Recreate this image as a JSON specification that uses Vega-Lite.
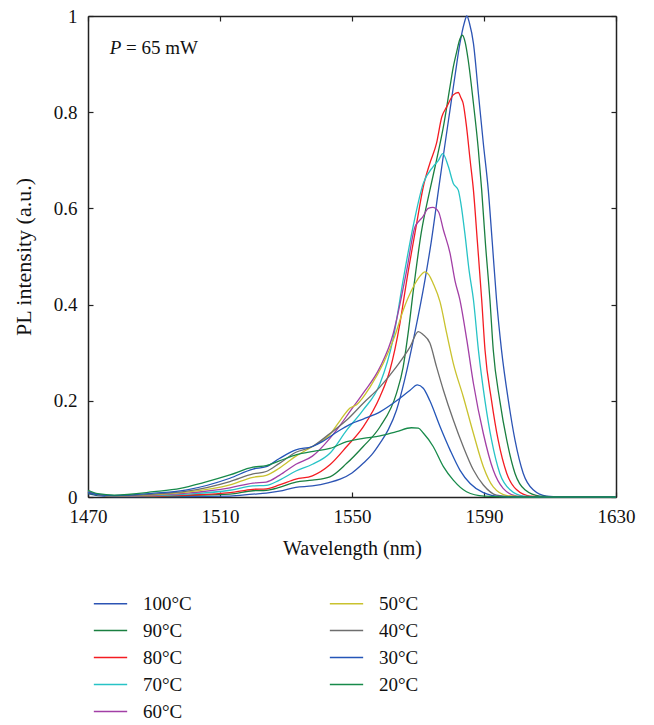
{
  "$schema": "https://vega.github.io/schema/vega-lite/v6.json",
  "autosize": {"type": "none"},
  "width": 528,
  "height": 481,
  "padding": {"left": 88, "top": 16, "right": 38, "bottom": 228},
  "background": "white",
  "config": {
    "view": {"stroke": null},
    "font": "Liberation Serif",
    "axis": {"grid": false, "domainColor": "#222", "domainWidth": 1.5, "tickColor": "#222", "tickWidth": 1.2, "labelFont": "Liberation Serif", "titleFont": "Liberation Serif", "labelColor": "#111", "titleColor": "#111", "labelFontSize": 19, "titleFontSize": 20, "titleFontWeight": "normal"}
  },
  "datasets": {
    "curves": [
      {"s":"100°C","w":1470,"v":0.007},{"s":"100°C","w":1473,"v":0.003},{"s":"100°C","w":1478,"v":0.001},{"s":"100°C","w":1490,"v":0.001},{"s":"100°C","w":1500,"v":0.001},{"s":"100°C","w":1513,"v":0.002},{"s":"100°C","w":1520,"v":0.006},{"s":"100°C","w":1524,"v":0.008},{"s":"100°C","w":1528,"v":0.012},{"s":"100°C","w":1533,"v":0.02},{"s":"100°C","w":1538,"v":0.023},{"s":"100°C","w":1543,"v":0.03},{"s":"100°C","w":1546.4,"v":0.037},{"s":"100°C","w":1550,"v":0.05},{"s":"100°C","w":1553.4,"v":0.07},{"s":"100°C","w":1556,"v":0.088},{"s":"100°C","w":1558.5,"v":0.112},{"s":"100°C","w":1561,"v":0.14},{"s":"100°C","w":1563.5,"v":0.181},{"s":"100°C","w":1566,"v":0.245},{"s":"100°C","w":1569,"v":0.34},{"s":"100°C","w":1572.1,"v":0.451},{"s":"100°C","w":1574,"v":0.53},{"s":"100°C","w":1576.2,"v":0.638},{"s":"100°C","w":1578,"v":0.725},{"s":"100°C","w":1579.7,"v":0.805},{"s":"100°C","w":1581.3,"v":0.88},{"s":"100°C","w":1582.7,"v":0.943},{"s":"100°C","w":1584,"v":0.985},{"s":"100°C","w":1584.8,"v":1.0},{"s":"100°C","w":1585.6,"v":0.985},{"s":"100°C","w":1586.8,"v":0.943},{"s":"100°C","w":1588.3,"v":0.839},{"s":"100°C","w":1589.8,"v":0.735},{"s":"100°C","w":1591.3,"v":0.638},{"s":"100°C","w":1592.5,"v":0.53},{"s":"100°C","w":1593.8,"v":0.41},{"s":"100°C","w":1595.3,"v":0.306},{"s":"100°C","w":1597.4,"v":0.2},{"s":"100°C","w":1599.4,"v":0.118},{"s":"100°C","w":1601.9,"v":0.049},{"s":"100°C","w":1604.9,"v":0.015},{"s":"100°C","w":1609,"v":0.002},{"s":"100°C","w":1615,"v":0},{"s":"100°C","w":1630,"v":0},

      {"s":"90°C","w":1470,"v":0.009},{"s":"90°C","w":1473,"v":0.004},{"s":"90°C","w":1478,"v":0.002},{"s":"90°C","w":1490,"v":0.001},{"s":"90°C","w":1500,"v":0.003},{"s":"90°C","w":1513,"v":0.006},{"s":"90°C","w":1520,"v":0.013},{"s":"90°C","w":1524,"v":0.014},{"s":"90°C","w":1528,"v":0.02},{"s":"90°C","w":1533,"v":0.031},{"s":"90°C","w":1538,"v":0.035},{"s":"90°C","w":1543.3,"v":0.042},{"s":"90°C","w":1548.4,"v":0.07},{"s":"90°C","w":1553.4,"v":0.105},{"s":"90°C","w":1558.5,"v":0.146},{"s":"90°C","w":1563.5,"v":0.216},{"s":"90°C","w":1565.5,"v":0.27},{"s":"90°C","w":1567,"v":0.34},{"s":"90°C","w":1568.6,"v":0.43},{"s":"90°C","w":1571,"v":0.55},{"s":"90°C","w":1573.6,"v":0.638},{"s":"90°C","w":1575.6,"v":0.7},{"s":"90°C","w":1577.7,"v":0.77},{"s":"90°C","w":1579.7,"v":0.853},{"s":"90°C","w":1580.7,"v":0.894},{"s":"90°C","w":1581.7,"v":0.925},{"s":"90°C","w":1582.7,"v":0.952},{"s":"90°C","w":1583.5,"v":0.96},{"s":"90°C","w":1584.3,"v":0.945},{"s":"90°C","w":1585.2,"v":0.909},{"s":"90°C","w":1586.8,"v":0.818},{"s":"90°C","w":1588.3,"v":0.721},{"s":"90°C","w":1589.3,"v":0.638},{"s":"90°C","w":1590.4,"v":0.53},{"s":"90°C","w":1591.8,"v":0.41},{"s":"90°C","w":1592.8,"v":0.306},{"s":"90°C","w":1594.8,"v":0.2},{"s":"90°C","w":1596.9,"v":0.118},{"s":"90°C","w":1599.4,"v":0.049},{"s":"90°C","w":1602.4,"v":0.015},{"s":"90°C","w":1607,"v":0.002},{"s":"90°C","w":1615,"v":0},{"s":"90°C","w":1630,"v":0},

      {"s":"80°C","w":1470,"v":0.01},{"s":"80°C","w":1473,"v":0.005},{"s":"80°C","w":1478,"v":0.002},{"s":"80°C","w":1490,"v":0.002},{"s":"80°C","w":1500,"v":0.004},{"s":"80°C","w":1513,"v":0.009},{"s":"80°C","w":1520,"v":0.016},{"s":"80°C","w":1524,"v":0.017},{"s":"80°C","w":1528,"v":0.025},{"s":"80°C","w":1533,"v":0.037},{"s":"80°C","w":1538,"v":0.044},{"s":"80°C","w":1543.3,"v":0.067},{"s":"80°C","w":1548.4,"v":0.105},{"s":"80°C","w":1553.4,"v":0.146},{"s":"80°C","w":1558.5,"v":0.209},{"s":"80°C","w":1561.5,"v":0.264},{"s":"80°C","w":1564.5,"v":0.36},{"s":"80°C","w":1566.6,"v":0.451},{"s":"80°C","w":1569.6,"v":0.569},{"s":"80°C","w":1571.6,"v":0.645},{"s":"80°C","w":1573.6,"v":0.694},{"s":"80°C","w":1575.6,"v":0.735},{"s":"80°C","w":1577.2,"v":0.79},{"s":"80°C","w":1578.7,"v":0.811},{"s":"80°C","w":1580.7,"v":0.836},{"s":"80°C","w":1582.2,"v":0.841},{"s":"80°C","w":1583,"v":0.83},{"s":"80°C","w":1583.7,"v":0.818},{"s":"80°C","w":1584.7,"v":0.77},{"s":"80°C","w":1585.8,"v":0.7},{"s":"80°C","w":1586.8,"v":0.638},{"s":"80°C","w":1588,"v":0.53},{"s":"80°C","w":1589.3,"v":0.41},{"s":"80°C","w":1590.3,"v":0.306},{"s":"80°C","w":1592.3,"v":0.2},{"s":"80°C","w":1594.3,"v":0.118},{"s":"80°C","w":1596.9,"v":0.049},{"s":"80°C","w":1599.9,"v":0.015},{"s":"80°C","w":1604,"v":0.002},{"s":"80°C","w":1612,"v":0},{"s":"80°C","w":1630,"v":0},

      {"s":"70°C","w":1470,"v":0.012},{"s":"70°C","w":1473,"v":0.005},{"s":"70°C","w":1478,"v":0.002},{"s":"70°C","w":1490,"v":0.003},{"s":"70°C","w":1500,"v":0.006},{"s":"70°C","w":1513,"v":0.014},{"s":"70°C","w":1520,"v":0.023},{"s":"70°C","w":1524,"v":0.024},{"s":"70°C","w":1528,"v":0.035},{"s":"70°C","w":1533,"v":0.054},{"s":"70°C","w":1538,"v":0.068},{"s":"70°C","w":1543.3,"v":0.091},{"s":"70°C","w":1548.4,"v":0.139},{"s":"70°C","w":1553.4,"v":0.181},{"s":"70°C","w":1558.5,"v":0.236},{"s":"70°C","w":1562.5,"v":0.33},{"s":"70°C","w":1565.6,"v":0.455},{"s":"70°C","w":1568.6,"v":0.565},{"s":"70°C","w":1571.6,"v":0.652},{"s":"70°C","w":1574.6,"v":0.687},{"s":"70°C","w":1576.2,"v":0.7},{"s":"70°C","w":1577.5,"v":0.714},{"s":"70°C","w":1579.2,"v":0.687},{"s":"70°C","w":1580.7,"v":0.652},{"s":"70°C","w":1582.2,"v":0.638},{"s":"70°C","w":1583,"v":0.61},{"s":"70°C","w":1584.2,"v":0.548},{"s":"70°C","w":1585.5,"v":0.47},{"s":"70°C","w":1586.8,"v":0.41},{"s":"70°C","w":1588.3,"v":0.306},{"s":"70°C","w":1590.3,"v":0.2},{"s":"70°C","w":1592.3,"v":0.118},{"s":"70°C","w":1594.8,"v":0.049},{"s":"70°C","w":1597.9,"v":0.015},{"s":"70°C","w":1602,"v":0.002},{"s":"70°C","w":1610,"v":0},{"s":"70°C","w":1630,"v":0},

      {"s":"60°C","w":1470,"v":0.012},{"s":"60°C","w":1473,"v":0.005},{"s":"60°C","w":1478,"v":0.002},{"s":"60°C","w":1490,"v":0.004},{"s":"60°C","w":1500,"v":0.008},{"s":"60°C","w":1513,"v":0.019},{"s":"60°C","w":1520,"v":0.029},{"s":"60°C","w":1524,"v":0.031},{"s":"60°C","w":1528,"v":0.045},{"s":"60°C","w":1533,"v":0.068},{"s":"60°C","w":1538,"v":0.085},{"s":"60°C","w":1543.3,"v":0.122},{"s":"60°C","w":1546.5,"v":0.15},{"s":"60°C","w":1549.4,"v":0.178},{"s":"60°C","w":1553.4,"v":0.216},{"s":"60°C","w":1558.5,"v":0.27},{"s":"60°C","w":1562.5,"v":0.34},{"s":"60°C","w":1564.5,"v":0.4},{"s":"60°C","w":1566.6,"v":0.472},{"s":"60°C","w":1569.1,"v":0.562},{"s":"60°C","w":1570.1,"v":0.572},{"s":"60°C","w":1571.5,"v":0.583},{"s":"60°C","w":1573.1,"v":0.6},{"s":"60°C","w":1574.5,"v":0.602},{"s":"60°C","w":1576.2,"v":0.593},{"s":"60°C","w":1577.7,"v":0.555},{"s":"60°C","w":1579.7,"v":0.507},{"s":"60°C","w":1581.2,"v":0.45},{"s":"60°C","w":1582.7,"v":0.41},{"s":"60°C","w":1584.8,"v":0.326},{"s":"60°C","w":1586.8,"v":0.236},{"s":"60°C","w":1589.8,"v":0.132},{"s":"60°C","w":1592.8,"v":0.056},{"s":"60°C","w":1595.8,"v":0.018},{"s":"60°C","w":1600,"v":0.002},{"s":"60°C","w":1608,"v":0},{"s":"60°C","w":1630,"v":0},

      {"s":"50°C","w":1470,"v":0.011},{"s":"50°C","w":1473,"v":0.005},{"s":"50°C","w":1478,"v":0.002},{"s":"50°C","w":1490,"v":0.005},{"s":"50°C","w":1500,"v":0.01},{"s":"50°C","w":1513,"v":0.025},{"s":"50°C","w":1520,"v":0.041},{"s":"50°C","w":1524,"v":0.045},{"s":"50°C","w":1528,"v":0.06},{"s":"50°C","w":1533,"v":0.085},{"s":"50°C","w":1538,"v":0.105},{"s":"50°C","w":1543.3,"v":0.13},{"s":"50°C","w":1546.5,"v":0.16},{"s":"50°C","w":1549.4,"v":0.185},{"s":"50°C","w":1551.4,"v":0.192},{"s":"50°C","w":1555.5,"v":0.229},{"s":"50°C","w":1559.5,"v":0.278},{"s":"50°C","w":1563,"v":0.335},{"s":"50°C","w":1565.6,"v":0.39},{"s":"50°C","w":1568.6,"v":0.437},{"s":"50°C","w":1570.5,"v":0.458},{"s":"50°C","w":1572.1,"v":0.468},{"s":"50°C","w":1573.3,"v":0.462},{"s":"50°C","w":1574.6,"v":0.444},{"s":"50°C","w":1576.7,"v":0.405},{"s":"50°C","w":1578.7,"v":0.34},{"s":"50°C","w":1580.7,"v":0.278},{"s":"50°C","w":1583.7,"v":0.209},{"s":"50°C","w":1586.8,"v":0.132},{"s":"50°C","w":1589.8,"v":0.063},{"s":"50°C","w":1592.8,"v":0.021},{"s":"50°C","w":1597,"v":0.003},{"s":"50°C","w":1605,"v":0},{"s":"50°C","w":1630,"v":0},

      {"s":"40°C","w":1470,"v":0.011},{"s":"40°C","w":1473,"v":0.005},{"s":"40°C","w":1478,"v":0.002},{"s":"40°C","w":1490,"v":0.006},{"s":"40°C","w":1500,"v":0.012},{"s":"40°C","w":1513,"v":0.032},{"s":"40°C","w":1520,"v":0.048},{"s":"40°C","w":1524,"v":0.053},{"s":"40°C","w":1528,"v":0.07},{"s":"40°C","w":1533,"v":0.093},{"s":"40°C","w":1538,"v":0.105},{"s":"40°C","w":1543.3,"v":0.132},{"s":"40°C","w":1548.4,"v":0.16},{"s":"40°C","w":1553.4,"v":0.195},{"s":"40°C","w":1558.5,"v":0.229},{"s":"40°C","w":1563.5,"v":0.271},{"s":"40°C","w":1567.6,"v":0.312},{"s":"40°C","w":1570.1,"v":0.344},{"s":"40°C","w":1571.5,"v":0.338},{"s":"40°C","w":1573.6,"v":0.32},{"s":"40°C","w":1575.6,"v":0.271},{"s":"40°C","w":1577.7,"v":0.222},{"s":"40°C","w":1580.7,"v":0.16},{"s":"40°C","w":1583.7,"v":0.105},{"s":"40°C","w":1586.8,"v":0.056},{"s":"40°C","w":1589.8,"v":0.025},{"s":"40°C","w":1593.8,"v":0.004},{"s":"40°C","w":1600,"v":0},{"s":"40°C","w":1630,"v":0},

      {"s":"30°C","w":1470,"v":0.01},{"s":"30°C","w":1473,"v":0.005},{"s":"30°C","w":1478,"v":0.003},{"s":"30°C","w":1490,"v":0.008},{"s":"30°C","w":1500,"v":0.015},{"s":"30°C","w":1513,"v":0.039},{"s":"30°C","w":1520,"v":0.058},{"s":"30°C","w":1524,"v":0.063},{"s":"30°C","w":1528,"v":0.08},{"s":"30°C","w":1533,"v":0.098},{"s":"30°C","w":1538,"v":0.105},{"s":"30°C","w":1541,"v":0.115},{"s":"30°C","w":1545.4,"v":0.135},{"s":"30°C","w":1549.4,"v":0.151},{"s":"30°C","w":1553.4,"v":0.162},{"s":"30°C","w":1558.5,"v":0.177},{"s":"30°C","w":1563.5,"v":0.2},{"s":"30°C","w":1567.6,"v":0.222},{"s":"30°C","w":1569.8,"v":0.233},{"s":"30°C","w":1571.6,"v":0.226},{"s":"30°C","w":1573.6,"v":0.2},{"s":"30°C","w":1576.7,"v":0.146},{"s":"30°C","w":1579.7,"v":0.098},{"s":"30°C","w":1582.7,"v":0.056},{"s":"30°C","w":1585.8,"v":0.028},{"s":"30°C","w":1589.8,"v":0.009},{"s":"30°C","w":1595,"v":0.001},{"s":"30°C","w":1605,"v":0},{"s":"30°C","w":1630,"v":0},

      {"s":"20°C","w":1470,"v":0.014},{"s":"20°C","w":1473,"v":0.007},{"s":"20°C","w":1478,"v":0.004},{"s":"20°C","w":1490,"v":0.011},{"s":"20°C","w":1498,"v":0.018},{"s":"20°C","w":1505,"v":0.03},{"s":"20°C","w":1513,"v":0.046},{"s":"20°C","w":1520,"v":0.062},{"s":"20°C","w":1524,"v":0.065},{"s":"20°C","w":1528,"v":0.075},{"s":"20°C","w":1533.2,"v":0.088},{"s":"20°C","w":1538.3,"v":0.095},{"s":"20°C","w":1543.3,"v":0.101},{"s":"20°C","w":1548.4,"v":0.115},{"s":"20°C","w":1553.4,"v":0.122},{"s":"20°C","w":1558.5,"v":0.127},{"s":"20°C","w":1563.5,"v":0.136},{"s":"20°C","w":1568,"v":0.144},{"s":"20°C","w":1570.1,"v":0.143},{"s":"20°C","w":1571.6,"v":0.133},{"s":"20°C","w":1574.6,"v":0.105},{"s":"20°C","w":1577.7,"v":0.063},{"s":"20°C","w":1580.7,"v":0.035},{"s":"20°C","w":1584.7,"v":0.011},{"s":"20°C","w":1590,"v":0.002},{"s":"20°C","w":1600,"v":0},{"s":"20°C","w":1630,"v":0}
    ],
    "noteP": [{"w": 1476.6, "v": 0.922, "t": "P"}],
    "noteRest": [{"w": 1481.5, "v": 0.922, "t": "= 65 mW"}]
  },
  "layer": [
    {
      "data": {"name": "curves"},
      "mark": {"type": "line", "strokeWidth": 1.3, "interpolate": "monotone"},
      "encoding": {
        "x": {"field": "w", "type": "quantitative", "scale": {"domain": [1470, 1630], "nice": false, "zero": false},
          "axis": {"orient": "bottom", "values": [1470, 1510, 1550, 1590, 1630], "format": "d", "tickSize": -5, "labelPadding": 15, "title": "Wavelength (nm)", "titlePadding": 12, "labelFlush": false}},
        "y": {"field": "v", "type": "quantitative", "scale": {"domain": [0, 1], "nice": false},
          "axis": {"orient": "left", "values": [0, 0.2, 0.4, 0.6, 0.8, 1], "format": ".1~f", "tickSize": -5, "labelPadding": 16, "title": "PL intensity (a.u.)", "titleFontSize": 22, "titlePadding": 18}},
        "color": {"field": "s", "type": "nominal",
          "scale": {"domain": ["100°C","90°C","80°C","70°C","60°C","50°C","40°C","30°C","20°C"],
                    "range": ["#2c54b4","#1a7f40","#f41c22","#27c3c6","#a23fa6","#c9c22e","#6e6e6e","#2456b8","#178a4a"]},
          "legend": {"orient": "none", "legendX": 5, "legendY": 578, "title": null, "columns": 2, "direction": "vertical",
            "symbolType": "stroke", "symbolSize": 1111, "symbolStrokeWidth": 1.6, "labelFont": "Liberation Serif", "labelFontSize": 19, "labelColor": "#111",
            "labelOffset": 15, "columnPadding": 137, "rowPadding": 7, "clipHeight": 19, "padding": 0, "labelLimit": 200}}
      }
    },
    {
      "data": {"name": "noteP"},
      "mark": {"type": "text", "align": "left", "baseline": "alphabetic", "font": "Liberation Serif", "fontSize": 19, "fontStyle": "italic", "color": "#111"},
      "encoding": {
        "x": {"field": "w", "type": "quantitative", "scale": {"domain": [1470, 1630], "nice": false, "zero": false},
          "axis": {"orient": "top", "values": [1470, 1510, 1550, 1590, 1630], "tickSize": -5, "labels": false, "title": null}},
        "y": {"field": "v", "type": "quantitative", "scale": {"domain": [0, 1], "nice": false},
          "axis": {"orient": "right", "values": [0, 0.2, 0.4, 0.6, 0.8, 1], "tickSize": -5, "labels": false, "title": null}},
        "text": {"field": "t"}
      }
    },
    {
      "data": {"name": "noteRest"},
      "mark": {"type": "text", "align": "left", "baseline": "alphabetic", "font": "Liberation Serif", "fontSize": 19, "color": "#111"},
      "encoding": {
        "x": {"field": "w", "type": "quantitative", "scale": {"domain": [1470, 1630], "nice": false, "zero": false}, "axis": null},
        "y": {"field": "v", "type": "quantitative", "scale": {"domain": [0, 1], "nice": false}, "axis": null},
        "text": {"field": "t"}
      }
    }
  ],
  "resolve": {"axis": {"x": "independent", "y": "independent"}}
}
